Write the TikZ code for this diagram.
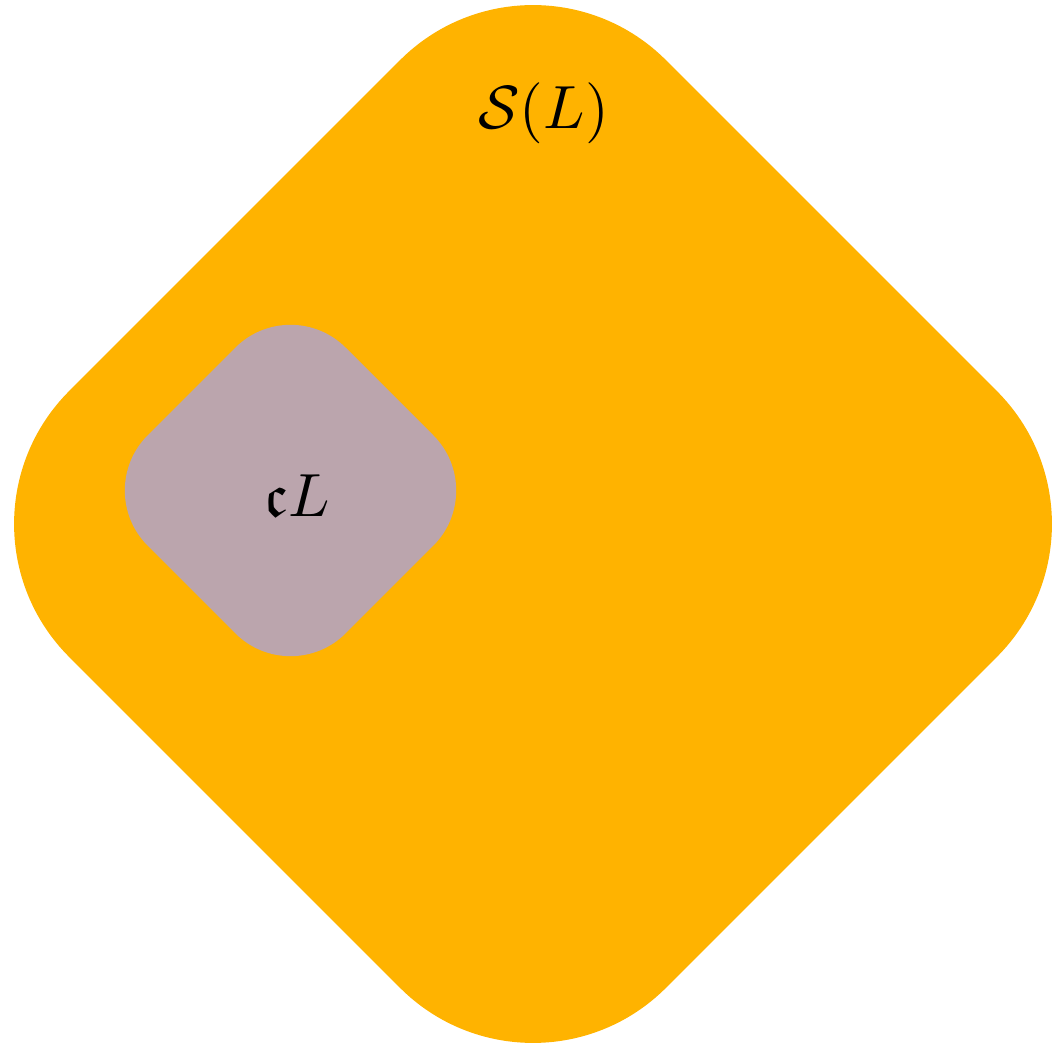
\documentclass[tikz,border=0pt]{standalone}
\usepackage{amsfonts}
\definecolor{setorange}{HTML}{FFB300}
\definecolor{setmauve}{HTML}{BBA5AD}
\begin{document}
\begin{tikzpicture}[x=1pt,y=1pt,
  region/.style={inner sep=0pt, outer sep=0pt, draw=none, rotate=45},
  lbl/.style={inner sep=0pt, scale=6.1}]
\useasboundingbox (0,0) rectangle (1059,1044);
\node[region, fill=setorange, minimum size=844pt, rounded corners=188pt] (big) at (533,520) {};
\node[region, fill=setmauve, minimum size=280pt, rounded corners=78pt] (small) at (290.5,553.5) {};
\node[lbl] (bigl) at (543.5,931) {$\mathcal{S}(L)$};
\node[lbl] (smalll) at (297,548) {$\mathfrak{c}L$};
\end{tikzpicture}
\end{document}
